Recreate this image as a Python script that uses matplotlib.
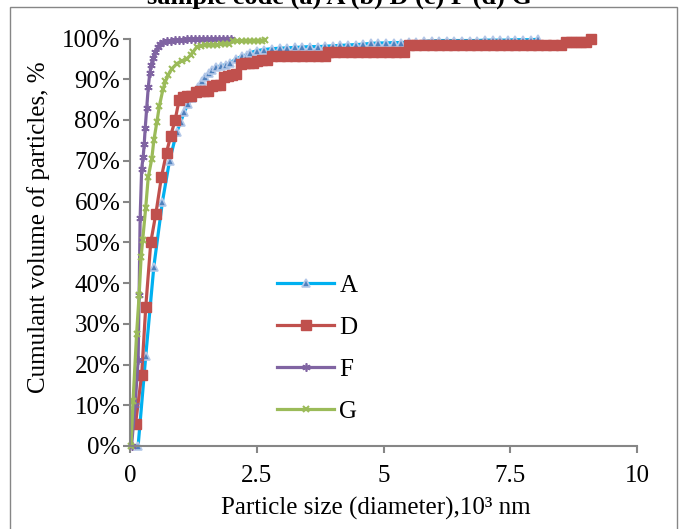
import matplotlib
matplotlib.use("Agg")
import matplotlib.pyplot as plt
import matplotlib.ticker as ticker
from matplotlib.patches import Rectangle

plt.rcParams['font.family'] = ['Liberation Serif', 'DejaVu Serif']

# particle size in 10^3 nm, cumulative volume in %
a_x = [0.16, 0.31, 0.47, 0.64, 0.78, 0.92, 1.0, 1.07, 1.15, 1.22, 1.29, 1.35, 1.42, 1.48,
       1.55, 1.62, 1.7, 1.8, 1.9, 1.97, 2.1, 2.2, 2.3, 2.37, 2.5, 2.65, 2.8, 2.95, 3.1, 3.25,
       3.4, 3.55, 3.7, 3.85, 4.0, 4.15, 4.3, 4.45, 4.6, 4.75, 4.9, 5.05, 5.2, 5.35, 5.5, 5.65,
       5.8, 5.95, 6.1, 6.25, 6.4, 6.55, 6.7, 6.85, 7.0, 7.15, 7.3, 7.45, 7.6, 7.75, 7.9, 8.05]
a_y = [0, 22, 44, 60, 70, 77, 79.5, 82, 84, 85.5, 87, 88, 89.5, 90.5,
       91.5, 92.2, 93, 93.3, 93.6, 94, 95, 95.6, 96, 96.5, 97, 97.3, 97.5, 97.6, 97.7, 97.8,
       97.9, 98, 98, 98.1, 98.2, 98.3, 98.4, 98.5, 98.6, 98.8, 98.9, 98.9, 99, 99, 99.1, 99.2,
       99.3, 99.4, 99.5, 99.5, 99.5, 99.5, 99.5, 99.5, 99.6, 99.6, 99.6, 99.6, 99.7, 99.7, 99.7, 99.8]

d_x = [0.11, 0.23, 0.31, 0.41, 0.51, 0.62, 0.72, 0.8, 0.89, 0.97, 1.05, 1.13, 1.21,
       1.3, 1.38, 1.46, 1.54, 1.62, 1.7, 1.78, 1.86, 1.94, 2.02, 2.1, 2.18, 2.26, 2.34, 2.42,
       2.5, 2.6, 2.7, 2.8, 2.95, 3.1, 3.25, 3.4, 3.55, 3.7, 3.85, 3.9, 4.05, 4.2, 4.35, 4.5,
       4.65, 4.8, 4.95, 5.1, 5.25, 5.4, 5.5, 5.65, 5.8, 5.95, 6.1, 6.25, 6.4, 6.55, 6.7, 6.85,
       7.0, 7.15, 7.3, 7.45, 7.6, 7.75, 7.9, 8.05, 8.2, 8.35, 8.5, 8.6, 8.7, 8.8, 8.9, 9.0, 9.1]
d_y = [5.5, 17.5, 34, 50, 57, 66, 72, 76, 80, 85, 85.6, 85.8, 86,
       86.8, 87, 87, 87.2, 88.3, 88.5, 88.7, 90.5, 90.8, 91, 91.2, 93.8, 94, 94, 94.1,
       94.6, 94.7, 94.8, 95.7, 95.7, 95.7, 95.7, 95.7, 95.7, 95.7, 95.7, 96.8, 96.8, 96.8, 96.8, 96.8,
       96.8, 96.8, 96.8, 96.8, 96.8, 96.8, 98.3, 98.3, 98.3, 98.3, 98.3, 98.3, 98.3, 98.3, 98.3, 98.3,
       98.3, 98.3, 98.3, 98.3, 98.3, 98.3, 98.3, 98.3, 98.3, 98.3, 98.3, 99.2, 99.2, 99.2, 99.2, 99.2, 100]

f_x = [0.03, 0.1, 0.16, 0.18, 0.2, 0.23, 0.26, 0.28, 0.3, 0.33, 0.36, 0.39, 0.42, 0.46, 0.5,
       0.55, 0.6, 0.66, 0.72, 0.8, 0.88, 0.96, 1.04, 1.12, 1.2, 1.28, 1.36, 1.44, 1.52, 1.6,
       1.68, 1.76, 1.84, 1.92, 2.0]
f_y = [0, 10, 21, 37, 56, 68, 71, 74, 78, 83, 88, 91.5, 93.5, 95.3, 96.8,
       98, 98.6, 99.1, 99.4, 99.5, 99.6, 99.7, 99.75, 99.8, 99.8, 99.85, 99.85, 99.9, 99.9, 99.9,
       99.95, 99.95, 100, 100, 100]

g_x = [0.02, 0.06, 0.13, 0.18, 0.22, 0.25, 0.31, 0.36, 0.43, 0.47, 0.53, 0.58, 0.65, 0.7,
       0.75, 0.82, 0.92, 1.02, 1.12, 1.2, 1.25, 1.32, 1.4, 1.48, 1.56, 1.64, 1.72, 1.8, 1.88,
       1.96, 2.04, 2.12, 2.2, 2.28, 2.36, 2.44, 2.52, 2.6, 2.66]
g_y = [0, 11, 27.5, 37, 46.5, 50.5, 58.5, 66, 70.5, 75, 79.5, 83.5, 87.5, 89.5,
       91, 92.5, 93.8, 94.5, 95, 96, 96.8, 98, 98.2, 98.3, 98.4, 98.5, 98.5, 98.6, 98.6,
       98.7, 99.3, 99.3, 99.4, 99.4, 99.4, 99.5, 99.5, 99.5, 99.6]

x_ticks = [0, 2.5, 5, 7.5, 10]
x_labels = ["0", "2.5", "5", "7.5", "10"]

fs = 18
fig = plt.figure(figsize=(6.79, 5.29), dpi=100)
ax = fig.add_axes([130 / 679, 1 - 446 / 529, 507 / 679, 407.5 / 529])

ax.plot(a_x, a_y, color='#00B0F0', lw=2.3, marker='^', ms=5.5, mfc='#4F81BD',
        mec='#B4C8E8', mew=1.2, label='A', clip_on=False)
ax.plot(d_x, d_y, color='#C0504D', lw=2.3, marker='s', ms=7.5, mfc='#C0504D',
        mec='#C0504D', label='D', clip_on=False)
ax.plot(f_x, f_y, color='#8064A2', lw=2.3, marker=(6, 2, 0), ms=6, mec='#8064A2',
        mew=1.2, label='F', clip_on=False)
ax.plot(g_x, g_y, color='#9BBB59', lw=2.3, marker='x', ms=5, mec='#9BBB59',
        mew=1.5, label='G', clip_on=False)

ax.set_xlim(0, 10)
ax.set_ylim(0, 100)
ax.set_xticks(x_ticks)
ax.set_xticklabels(x_labels)
ax.set_yticks(range(0, 101, 10))
ax.yaxis.set_major_formatter(ticker.PercentFormatter(xmax=100, decimals=0))
for s in ['top', 'right']:
    ax.spines[s].set_visible(False)
for s in ['left', 'bottom']:
    ax.spines[s].set_color('#868686')
    ax.spines[s].set_linewidth(1.5)
ax.tick_params(direction='out', length=5, width=1.5, color='#868686', labelsize=fs)
ax.tick_params(axis='x', pad=9)
ax.tick_params(axis='y', pad=2)

ax.set_xlabel("Particle size (diameter),10³ nm", fontsize=fs)
ax.set_ylabel("Cumulant volume of particles, %", fontsize=fs)
ax.xaxis.set_label_coords(0.485, -0.125)
ax.yaxis.set_label_coords(-0.158, 0.537)

ax.legend(loc='upper left', bbox_to_anchor=(0.27, 0.445), frameon=False, fontsize=fs,
          handlelength=2.3, labelspacing=0.78, handletextpad=0.2, borderaxespad=0)

fig.text(0.5, 1 - 4 / 529, "sample code (a) A (b) D (c) F (d) G", ha='center',
         va='baseline', fontsize=19, fontweight='bold')
fig.patches.append(Rectangle((10 / 679, -0.1), 667 / 679, 1.1 - 7 / 529,
                             transform=fig.transFigure, fill=False,
                             edgecolor='#868686', lw=1))

fig.savefig("out.png", dpi=100)
